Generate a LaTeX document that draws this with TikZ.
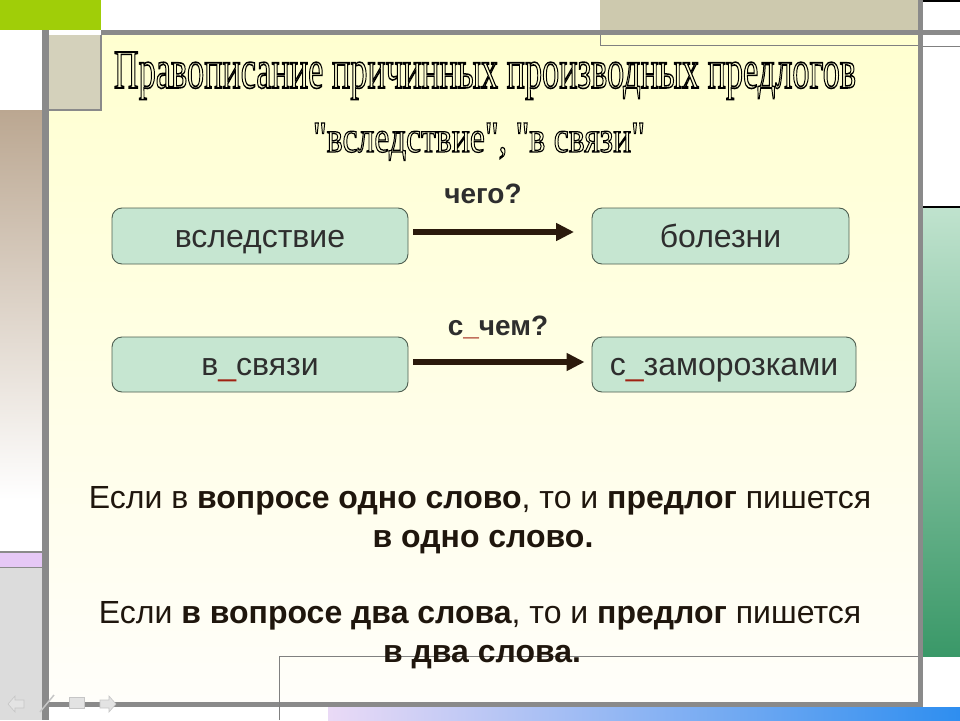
\documentclass[tikz,border=0pt]{standalone}
\usepackage{fontspec}
\setmainfont{Liberation Sans}
\newfontfamily\titlefont{Liberation Serif}
\usetikzlibrary{arrows.meta}
\definecolor{greenbox}{HTML}{A0CE08}
\definecolor{bargray}{HTML}{8A8A8A}
\definecolor{beige}{HTML}{CDC9AE}
\definecolor{beigeS}{HTML}{D4D1BB}
\definecolor{tan}{HTML}{BBA791}
\definecolor{tanmid}{HTML}{DDD2C6}
\definecolor{pinkstrip}{HTML}{E6C8F6}
\definecolor{lgray}{HTML}{DCDCDC}
\definecolor{mint}{HTML}{C6E6D1}
\definecolor{mintborder}{HTML}{4E5E50}
\definecolor{arrowc}{HTML}{2B1A0C}
\definecolor{txt}{HTML}{1F160D}
\definecolor{boxtxt}{HTML}{2E2E2E}
\definecolor{redu}{HTML}{A02212}
\definecolor{yellowtop}{HTML}{FFFFD0}
\definecolor{yellowbot}{HTML}{FFFEFA}
\definecolor{gtop}{HTML}{C0E3CE}
\definecolor{gbot}{HTML}{3A9868}
\definecolor{bleft}{HTML}{EADAF6}
\definecolor{bright}{HTML}{2E8EF0}
\newcommand\ru{\textcolor{redu}{\_}}
\newcommand\outl[1]{\special{pdf:literal direct 1 Tr 0.28 w 0 G}#1\special{pdf:literal direct 0 Tr}}
\newcommand\titleA{\resizebox{742pt}{36pt}{\titlefont\outl{Правописание причинных производных предлогов}}}
\newcommand\titleB{\resizebox{332pt}{29pt}{\titlefont\outl{"вследствие", "в связи"}}}
\tikzset{
  wordbox/.style={draw=mintborder, line width=0.9pt, fill=mint, rounded corners=10pt,
    minimum height=56pt, text height=22pt, text depth=0pt, inner sep=0pt,
    font=\fontsize{32}{36}\selectfont, text=boxtxt},
  qlabel/.style={anchor=base, inner sep=0pt, font=\fontsize{28}{32}\selectfont\bfseries, text=boxtxt},
  arr/.style={draw=arrowc, line width=6pt, -{Triangle[length=18pt,width=17pt]}},
  rule/.style={anchor=base, inner sep=0pt, font=\fontsize{32}{36}\selectfont, text=txt},
  navicon/.style={fill=gray!22, draw=gray!45, line width=0.6pt},
  titletxt/.style={anchor=base, inner sep=0pt, text=black}
}
\begin{document}
\begin{tikzpicture}[x=1pt,y=-1pt]
\useasboundingbox (0,0) rectangle (960,720);
\fill[white] (0,0) rectangle (960,720);
% main slide area
\shade[top color=yellowtop, bottom color=yellowbot] (49,35) rectangle (918,702);
% top left green
\fill[greenbox] (0,0) rectangle (101,30);
% small beige box under green
\fill[beigeS] (49,35) rectangle (101,110);
\draw[bargray, line width=1.2pt] (101,35) -- (101,110) -- (49,110);
% top right beige box and thin frame
\fill[beige] (600,0) rectangle (918,30);
\draw[gray, line width=1pt] (600,30) -- (600,45) -- (918,45);
% top thick bar
\fill[bargray] (101,30) rectangle (960,35);
% right column
\draw[black, line width=1.5pt] (923,1) -- (960,1);
\draw[gray, line width=1pt] (923,46) -- (960,46);
\shade[top color=gtop, bottom color=gbot] (923,207) rectangle (960,656);
\draw[black, line width=2pt] (923,207) -- (960,207);
% left column
\shade[top color=tan, middle color=tanmid, bottom color=white] (0,110) rectangle (42,500);
\fill[white] (0,500) rectangle (42,552);
\fill[pinkstrip] (0,552) rectangle (42,568);
\draw[bargray, line width=1.5pt] (0,552) -- (42,552) (0,568) -- (42,568);
\fill[lgray] (0,568) rectangle (42,720);
% vertical bars
\fill[bargray] (42,30) rectangle (49,720);
\fill[bargray] (918,0) rectangle (923,707);
% bottom bar
\fill[bargray] (42,702) rectangle (923,707);
% bottom gradient strip
\shade[left color=bleft, right color=bright] (328,707) rectangle (960,720);
% thin bottom frame
\draw[gray, line width=1pt] (279,720) -- (279,656) -- (918,656);
% nav icons
\filldraw[navicon] (8,704) -- (15,696) -- (15,700) -- (24,700) -- (24,708) -- (15,708) -- (15,712) -- cycle;
\draw[gray!45, line width=1.5pt] (40,712) -- (54,695);
\filldraw[navicon] (69,697) rectangle (84,708);
\filldraw[navicon] (116,704) -- (109,696) -- (109,700) -- (100,700) -- (100,708) -- (109,708) -- (109,712) -- cycle;
% title (outlined letters)
\node[titletxt] (title1) at (485,88) {\titleA};
\node[titletxt] (title2) at (479,152) {\titleB};
% boxes
\node[wordbox, minimum width=296pt] (b1) at (260,236) {вследствие};
\node[wordbox, minimum width=257pt] (b2) at (720.5,236) {болезни};
\node[wordbox, minimum width=296pt, minimum height=55pt] (b3) at (260,364.5) {в\ru связи};
\node[wordbox, minimum width=264pt, minimum height=55pt] (b4) at (724,364.5) {с\ru заморозками};
% arrows
\draw[arr, shorten <=5pt, shorten >=17.5pt] ([yshift=4pt]b1.east) -- ([yshift=4pt]b2.west);
\draw[arr, shorten <=5pt, shorten >=7pt] ([yshift=2.5pt]b3.east) -- ([yshift=2.5pt]b4.west);
% question labels
\node[qlabel] (q1) at (483,203) {чего?};
\node[qlabel] (q2) at (498,335) {с\ru чем?};
% rule text
\node[rule] (r1) at (480,508) {Если в \textbf{вопросе одно слово}, то и \textbf{предлог} пишется};
\node[rule] (r2) at (483,547) {\textbf{в одно слово.}};
\node[rule] (r3) at (480,623) {Если \textbf{в вопросе два слова}, то и \textbf{предлог} пишется};
\node[rule] (r4) at (482,662) {\textbf{в два слова.}};
\end{tikzpicture}
\end{document}
